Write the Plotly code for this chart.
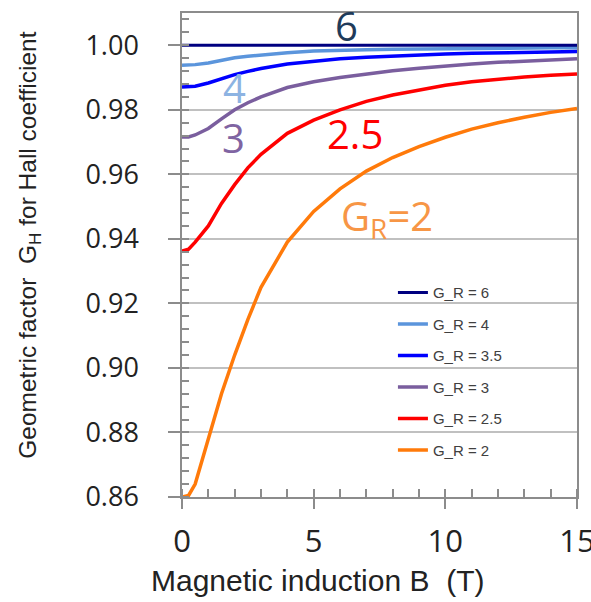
import plotly.graph_objects as go

B = [0, 0.25, 0.5, 1, 1.5, 2, 2.5, 3, 4, 5, 6, 7, 8, 9, 10, 11, 12, 13, 14, 15]

gh_6 = [1.0] * 20
gh_4 = [0.9938, 0.9938, 0.9940, 0.9945, 0.9953, 0.9961, 0.9966, 0.9970, 0.9977, 0.9982,
        0.9985, 0.9986, 0.9988, 0.9989, 0.9990, 0.9990, 0.9991, 0.9991, 0.9992, 0.9992]
gh_35 = [0.9871, 0.9871, 0.9873, 0.9883, 0.9897, 0.9909, 0.9919, 0.9928, 0.9942, 0.9951,
         0.9958, 0.9963, 0.9967, 0.9970, 0.9973, 0.9975, 0.9977, 0.9979, 0.9980, 0.9981]
gh_3 = [0.9716, 0.9716, 0.9722, 0.9742, 0.9772, 0.9800, 0.9822, 0.9840, 0.9869, 0.9887,
        0.9900, 0.9911, 0.9921, 0.9929, 0.9936, 0.9942, 0.9947, 0.9951, 0.9955, 0.9958]
gh_25 = [0.9362, 0.9368, 0.9390, 0.9440, 0.9510, 0.9568, 0.9620, 0.9662, 0.9727, 0.9768,
         0.9800, 0.9826, 0.9846, 0.9862, 0.9876, 0.9887, 0.9895, 0.9902, 0.9907, 0.9911]
gh_2 = [0.8600, 0.8605, 0.8640, 0.8780, 0.8920, 0.9040, 0.9150, 0.9250, 0.9390, 0.9485,
        0.9555, 0.9610, 0.9652, 0.9686, 0.9715, 0.9740, 0.9760, 0.9777, 0.9792, 0.9804]

series_names = ["G_R = 6", "G_R = 4", "G_R = 3.5", "G_R = 3", "G_R = 2.5", "G_R = 2"]
series_vals = [gh_6, gh_4, gh_35, gh_3, gh_25, gh_2]
series_colors = ["#000080", "#5B95DC", "#0000FF", "#7A5E9E", "#FF0000", "#FF7A0A"]
series_widths = [3, 3.5, 3.5, 3.5, 3.5, 3.5]

labels_text = ["6", "4", "3", "2.5", "G<sub>R</sub>=2"]
labels_x = [6.25, 2.0, 1.95, 6.56, 7.78]
labels_y = [1.0062, 0.9870, 0.9715, 0.9727, 0.9466]
labels_color = ["#1F3B5A", "#8DB3E2", "#8064A2", "#FF0000", "#F79646"]

x_title = "Magnetic induction B  (T)"
y_title = "Geometric factor  G<sub>H</sub> for Hall coefficient"

fig = go.Figure()
order = [5, 4, 3, 1, 2, 0]
traces = []
for i in range(6):
    traces.append(go.Scatter(
        x=B, y=series_vals[i], mode="lines", name=series_names[i],
        line=dict(color=series_colors[i], width=series_widths[i]),
        legendgroup=series_names[i], legendrank=i + 1,
    ))
for k in order:
    fig.add_trace(traces[k])

for t, x, y, c in zip(labels_text, labels_x, labels_y, labels_color):
    fig.add_annotation(x=x, y=y, text=t, showarrow=False, xanchor="center", yanchor="middle",
                       font=dict(family="Open Sans", size=40, color=c))

fig.add_annotation(xref="paper", yref="paper", x=0.344, y=-0.1715, text=x_title,
                   showarrow=False, xanchor="center", yanchor="middle",
                   font=dict(family="Liberation Sans", size=30, color="#222222"))
fig.add_annotation(xref="paper", yref="paper", x=-0.385, y=0.521, text=y_title, textangle=-90,
                   showarrow=False, xanchor="center", yanchor="middle",
                   font=dict(family="Liberation Sans", size=24.5, color="#222222"))

axis_gray = "#8C8C8C"
fig.update_layout(
    width=591, height=602,
    margin=dict(l=182, r=14, t=13, b=105),
    plot_bgcolor="white", paper_bgcolor="white",
    showlegend=True,
    legend=dict(x=0.534, y=0.456, xanchor="left", yanchor="top",
                bgcolor="rgba(0,0,0,0)", tracegroupgap=9,
                font=dict(family="Liberation Sans", size=15, color="#404040")),
    xaxis=dict(range=[0, 15], tickvals=[0, 5, 10, 15], showgrid=False, zeroline=False,
               showline=True, linecolor=axis_gray, linewidth=1.5, mirror=True,
               ticks="outside", ticklen=10, tickwidth=1.5, tickcolor=axis_gray,
               ticklabelstandoff=6, ticklabeloverflow="allow", automargin=False,
               minor=dict(dtick=1, ticks="inside", ticklen=8, tickwidth=1.5, tickcolor=axis_gray, showgrid=False),
               tickfont=dict(family="Open Sans", size=31, color="#222222")),
    yaxis=dict(range=[0.86, 1.01], tickvals=[0.86, 0.88, 0.90, 0.92, 0.94, 0.96, 0.98, 1.00],
               tickformat=".2f", showgrid=True, gridcolor="#C0C0C0", gridwidth=2, zeroline=False,
               showline=True, linecolor=axis_gray, linewidth=1.5, mirror=True,
               ticks="outside", ticklen=12, tickwidth=1.5, tickcolor=axis_gray,
               ticklabelstandoff=24, automargin=False,
               minor=dict(dtick=0.004, tick0=0.86, ticks="inside", ticklen=7, tickwidth=1.5, tickcolor=axis_gray, showgrid=False),
               tickfont=dict(family="Open Sans", size=27, color="#222222")),
)

fig.write_html("out.html")
